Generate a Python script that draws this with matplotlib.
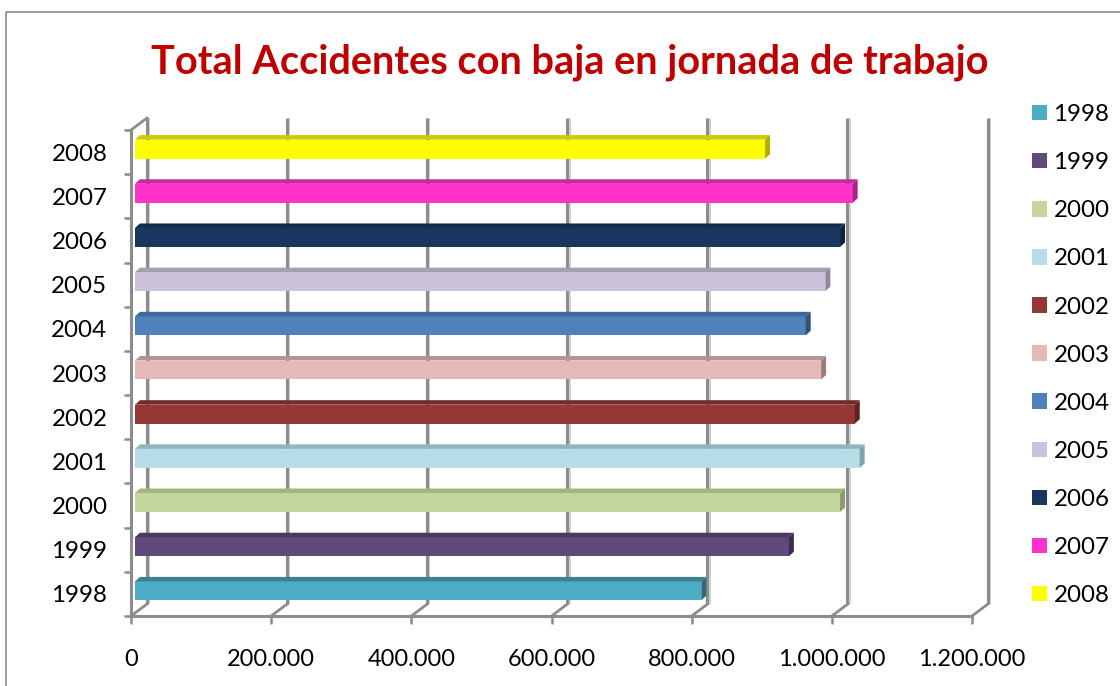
import matplotlib
matplotlib.use("Agg")
import matplotlib.pyplot as plt
from matplotlib.lines import Line2D
from matplotlib.patches import Polygon
from matplotlib.transforms import Affine2D

plt.rcParams['font.family'] = ['Lato', 'DejaVu Sans']

years = ['1998', '1999', '2000', '2001', '2002', '2003', '2004', '2005', '2006', '2007', '2008']
values = [808000, 933000, 1006000, 1034000, 1027000, 979000, 957000, 985000, 1006000, 1024000, 899000]
colors = ['#4BACC6', '#604A7B', '#C3D69B', '#B7DEE8', '#953735', '#E6B9B8',
          '#4F81BD', '#CCC1DA', '#17375E', '#FF33CC', '#FFFF00']
top_colors = ['#3C8091', '#4A3960', '#A3B580', '#94B4BC', '#762B2A', '#B89392',
              '#3F6797', '#A69DB1', '#122C4B', '#C62A9F', '#CCCC00']
side_colors = ['#2E6A7C', '#3B2C50', '#8C9C6C', '#7FA3AC', '#5F2221', '#9C7C7B',
               '#325277', '#8F8799', '#0E223A', '#A8228A', '#AFAF00']
x_ticks = [0, 200000, 400000, 600000, 800000, 1000000, 1200000]
x_labels = ['0', '200.000', '400.000', '600.000', '800.000', '1.000.000', '1.200.000']

W, H = 1120, 686
L, R, T, B = 131, 972, 130, 616
fig = plt.figure(figsize=(W / 100, H / 100), dpi=100, facecolor='white')
ax = fig.add_axes([L / W, 1 - B / H, (R - L) / W, (B - T) / H])
ax.set_facecolor('none')
ax.set_xlim(0, 1200000)
ax.set_ylim(0, len(years))

GRID = '#8C8C8C'
LIGHT = '#CFCFCF'


def shift(dx, dy):
    return ax.transData + Affine2D().translate(dx, dy)


# back wall gridlines and floor diagonals
for xt in x_ticks:
    ax.plot([xt, xt], [0, len(years)], color=LIGHT, lw=1.4, clip_on=False, zorder=1,
            transform=shift(18, 12), solid_capstyle='butt')
    ax.plot([xt, xt], [0, len(years)], color=GRID, lw=2.2, clip_on=False, zorder=1.1,
            transform=shift(15.5, 12), solid_capstyle='butt')
    p0 = ax.transData.transform((xt, 0))
    ax.add_line(Line2D([p0[0], p0[0] + 16], [p0[1], p0[1] + 12], color=GRID, lw=2.0,
                       transform=None, zorder=1.1, clip_on=False))
p1 = ax.transData.transform((0, len(years)))
ax.add_line(Line2D([p1[0], p1[0] + 16], [p1[1], p1[1] + 12], color=GRID, lw=2.0,
                   transform=None, zorder=1.1, clip_on=False))

# bars: front face, top face, side face
BAR_H = 0.43
DX, DY = 5, 4.5
for i, (year, v) in enumerate(zip(years, values)):
    y = i + 0.5
    off = shift(4, 3)
    ax.barh(y, v, height=BAR_H, color=colors[i], label=year, transform=off, zorder=3, clip_on=False)
    (x0, y0), (x1, y1) = off.transform([(0, y - BAR_H / 2), (v, y + BAR_H / 2)])
    ax.add_patch(Polygon([(x0, y1), (x1, y1), (x1 + DX, y1 + DY), (x0 + DX, y1 + DY)], closed=True,
                         transform=None, facecolor=top_colors[i], edgecolor='none', zorder=3, clip_on=False))
    ax.add_patch(Polygon([(x1, y0), (x1 + DX, y0 + DY), (x1 + DX, y1 + DY), (x1, y1)], closed=True,
                         transform=None, facecolor=side_colors[i], edgecolor='none', zorder=3, clip_on=False))

# axes
for s in ('top', 'right'):
    ax.spines[s].set_visible(False)
for s in ('left', 'bottom'):
    ax.spines[s].set_color(GRID)
    ax.spines[s].set_linewidth(2.2)
    ax.spines[s].set_zorder(2)
ax.set_xticks(x_ticks)
ax.set_xticklabels(x_labels, fontsize=17, color='black')
ax.tick_params(axis='x', length=5.5, width=1.8, color=GRID, pad=18)
ax.set_yticks(range(len(years) + 1))
ax.set_yticklabels([])
ax.tick_params(axis='y', which='major', length=5, width=1.8, color=GRID)
ax.set_yticks([i + 0.5 for i in range(len(years))], minor=True)
ax.set_yticklabels(years, minor=True, fontsize=17.4, color='black')
ax.tick_params(axis='y', which='minor', length=0, pad=17)

# title
fig.text(570 / W, 1 - 62 / H, 'Total Accidentes con baja en jornada de trabajo',
         fontsize=28.6, fontweight='bold', color='#C00000', ha='center', va='center')

# legend
handles, labels = ax.get_legend_handles_labels()
fig.legend(handles, labels, loc='upper left', bbox_to_anchor=(1025 / W, 1 - 97 / H), frameon=False,
           fontsize=17.4, handlelength=0.6, handleheight=0.6, handletextpad=0.28,
           labelspacing=1.12, borderpad=0.3, borderaxespad=0)

# outer frame
fig.add_artist(Line2D([6 / W, 6 / W, 1], [0, 1 - 12 / H, 1 - 12 / H], color='#8C8C8C', lw=1.2,
                      transform=fig.transFigure))

fig.savefig('out.png', dpi=100, facecolor='white')
